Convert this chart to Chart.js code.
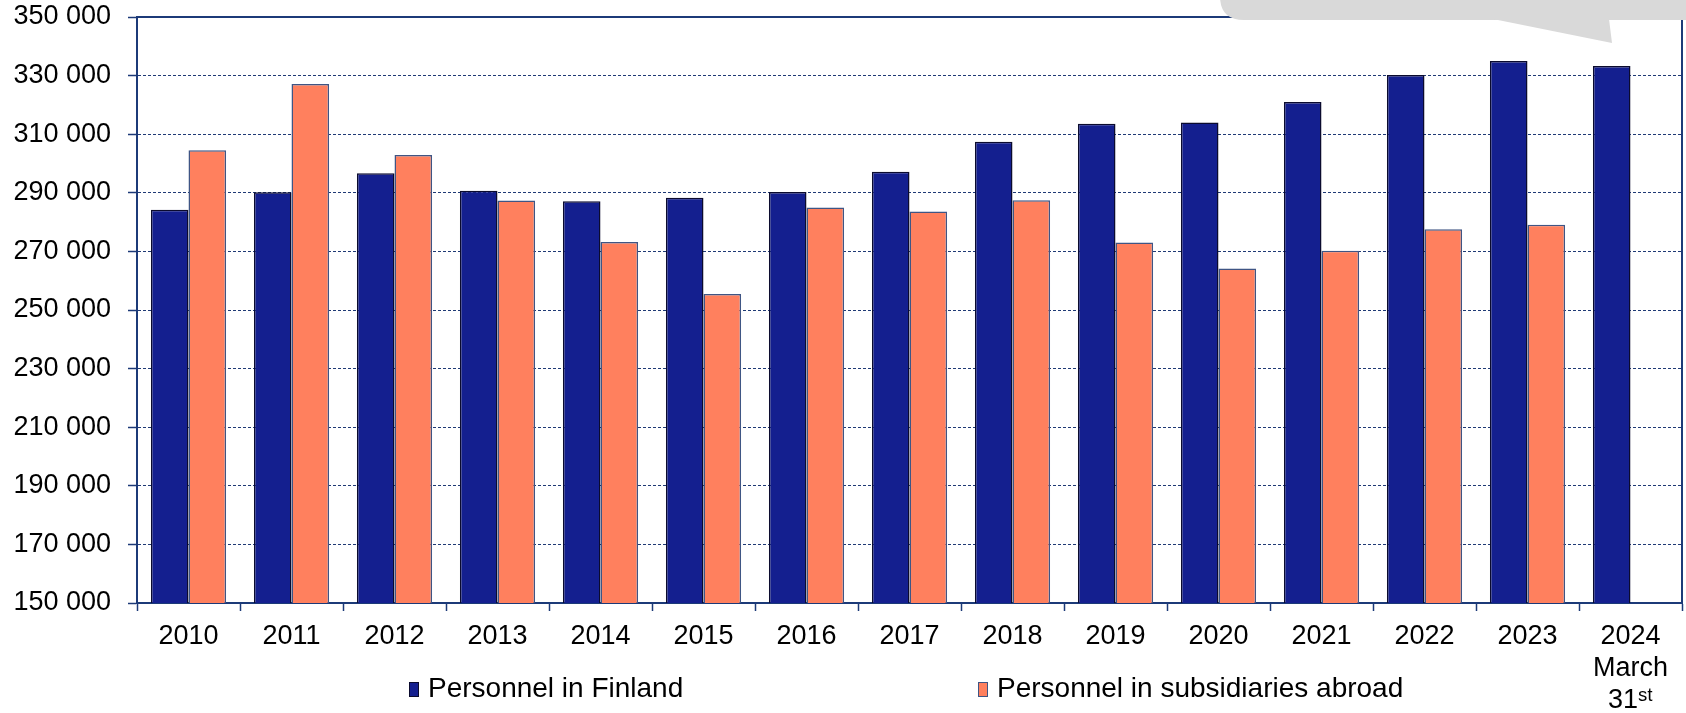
<!DOCTYPE html>
<html>
<head>
<meta charset="utf-8">
<script src="https://cdn.jsdelivr.net/npm/chart.js@4/dist/chart.umd.min.js"></script>
<style>
  html, body { margin: 0; padding: 0; background: #ffffff; }
  #wrap { width: 1686px; height: 713px; position: relative; }
</style>
</head>
<body>
<div id="wrap"><canvas id="c"></canvas></div>
<script>
// ---- data ----
const categories = ['2010','2011','2012','2013','2014','2015','2016','2017','2018','2019','2020','2021','2022','2023',['2024','March','31ˢᵗ']];
const personnelFinland = [284200, 290200, 296700, 290700, 287100, 288300, 290300, 297200, 307400, 313600, 314000, 321000, 330200, 335000, 333300];
const personnelAbroad  = [304500, 327100, 302900, 287400, 273200, 255500, 285000, 283600, 287500, 273000, 264200, 270200, 277600, 279100, null];
const seriesNames = ['Personnel in Finland', 'Personnel in subsidiaries abroad'];
const yMin = 150000, yMax = 350000, yStep = 20000;

const FONT = "'Liberation Sans', Arial, sans-serif";
const NAVY = '#1c3a78';

const decorPlugin = {
  id: 'decor',
  afterDraw(chart) {
    const ctx = chart.ctx;
    const a = chart.chartArea;
    ctx.save();
    // frame: top and right edges
    ctx.strokeStyle = NAVY;
    ctx.lineWidth = 2;
    ctx.beginPath();
    ctx.moveTo(a.left, a.top);
    ctx.lineTo(a.right, a.top);
    ctx.lineTo(a.right, a.bottom);
    ctx.stroke();

    // legend
    const ds = chart.data.datasets;
    const legendX = [409, 978];
    const ly = 689;
    ctx.font = '28px ' + FONT;
    ctx.textBaseline = 'middle';
    ctx.textAlign = 'left';
    ds.forEach((d, i) => {
      const x = legendX[i];
      ctx.fillStyle = d.backgroundColor;
      ctx.fillRect(x, ly - 7, 10, 15);
      ctx.strokeStyle = d.borderColor;
      ctx.lineWidth = 1;
      ctx.strokeRect(x + 0.5, ly - 6.5, 9, 14);
      ctx.fillStyle = '#000000';
      ctx.fillText(d.label, x + 19, ly);
    });

    // grey callout (top right)
    ctx.fillStyle = '#d9d9d9';
    ctx.beginPath();
    const r = 24, x0 = 1220, x1 = 1712, y0 = -60, y1 = 20;
    ctx.moveTo(x0, y0);
    ctx.lineTo(x0, y1 - r);
    ctx.quadraticCurveTo(x0, y1, x0 + r, y1);
    ctx.lineTo(x1 - r, y1);
    ctx.quadraticCurveTo(x1, y1, x1, y1 - r);
    ctx.lineTo(x1, y0);
    ctx.closePath();
    ctx.fill();
    ctx.beginPath();
    ctx.moveTo(1493, 19);
    ctx.lineTo(1612, 43);
    ctx.lineTo(1609, 19);
    ctx.closePath();
    ctx.fill();
    ctx.restore();
  }
};

new Chart(document.getElementById('c'), {
  type: 'bar',
  data: {
    labels: categories,
    datasets: [
      {
        label: seriesNames[0],
        data: personnelFinland,
        backgroundColor: '#141f8f',
        borderColor: '#0b0b2e',
        borderWidth: 1.5,
        categoryPercentage: 0.73,
        barPercentage: 1.0
      },
      {
        label: seriesNames[1],
        data: personnelAbroad,
        backgroundColor: '#ff805e',
        borderColor: '#3f5584',
        borderWidth: 1.5,
        categoryPercentage: 0.73,
        barPercentage: 1.0
      }
    ]
  },
  options: {
    responsive: true,
    maintainAspectRatio: false,
    animation: false,
    layout: { padding: { top: 17, right: 4, left: 0, bottom: 0 } },
    plugins: {
      legend: { display: false },
      tooltip: { enabled: false }
    },
    scales: {
      x: {
        offset: true,
        grid: {
          offset: true,
          drawOnChartArea: false,
          drawTicks: true,
          tickLength: 8,
          tickColor: NAVY,
          tickWidth: 1.5
        },
        border: { display: true, color: NAVY, width: 2 },
        ticks: {
          color: '#000000',
          font: { family: FONT, size: 27, lineHeight: 1.2 },
          padding: 9,
          autoSkip: false,
          maxRotation: 0,
          minRotation: 0
        },
        afterFit(scale) { scale.height = 110; scale.paddingTop = 0; scale.paddingBottom = 0; }
      },
      y: {
        min: yMin,
        max: yMax,
        grid: {
          color: '#1f3a75',
          lineWidth: 1,
          drawTicks: true,
          tickLength: 9,
          tickColor: NAVY,
          tickWidth: 1.5
        },
        border: { display: true, color: NAVY, width: 2, dash: [3, 2] },
        ticks: {
          stepSize: yStep,
          color: '#000000',
          padding: 17,
          font: { family: FONT, size: 27 },
          callback: v => String(v).replace(/\B(?=(\d{3})+(?!\d))/g, ' ')
        },
        afterFit(scale) { scale.width = 137; scale.paddingTop = 0; scale.paddingBottom = 0; }
      }
    }
  },
  plugins: [decorPlugin]
});
</script>
</body>
</html>
